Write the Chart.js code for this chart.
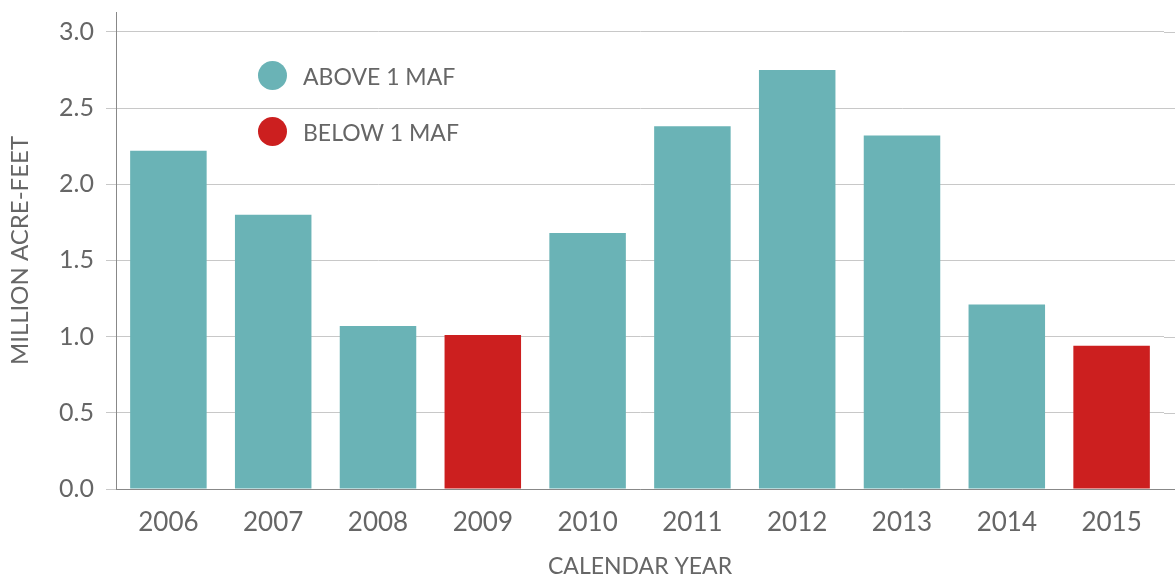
<!DOCTYPE html>
<html>
<head>
<meta charset="utf-8">
<script src="https://cdn.jsdelivr.net/npm/chart.js@4/dist/chart.umd.min.js"></script>
<style>
  html, body { margin: 0; padding: 0; background: #fff; }
  #wrap { position: relative; width: 1175px; height: 580px; }
  .legend { position: absolute; left: 258px; font-family: Lato, sans-serif; font-size: 23px; color: #666; display: flex; align-items: center; }
  .legend span.dot { display: inline-block; width: 29px; height: 29px; border-radius: 50%; margin-right: 16px; }
</style>
</head>
<body>
<div id="wrap">
  <canvas id="chart" width="1175" height="580"></canvas>
  <div class="legend" style="top: 61px;"><span class="dot" style="background:#6ab3b6"></span>ABOVE 1 MAF</div>
  <div class="legend" style="top: 117px;"><span class="dot" style="background:#cc1f1f"></span>BELOW 1 MAF</div>
</div>
<script>
const years = ['2006', '2007', '2008', '2009', '2010', '2011', '2012', '2013', '2014', '2015'];
const flows = [2.22, 1.80, 1.07, 1.01, 1.68, 2.38, 2.75, 2.32, 1.21, 0.94];
// which bars fall under the 1 MAF mark
const belowOne = [false, false, false, true, false, false, false, false, false, true];

const teal = '#6ab3b6';
const red = '#cc1f1f';
const textGrey = '#666';

// carry the horizontal gridlines on to the right edge of the canvas
const gridToEdge = {
  id: 'gridToEdge',
  beforeDatasetsDraw(chart) {
    const ctx = chart.ctx;
    const y = chart.scales.y;
    const right = chart.chartArea.right;
    ctx.save();
    ctx.lineWidth = 1;
    y.ticks.forEach(t => {
      const py = Math.round(y.getPixelForValue(t.value)) + 0.5;
      ctx.strokeStyle = t.value === 0 ? '#888' : '#c8c8c8';
      ctx.beginPath();
      ctx.moveTo(right, py);
      ctx.lineTo(chart.width, py);
      ctx.stroke();
    });
    ctx.restore();
  }
};

new Chart(document.getElementById('chart'), {
  type: 'bar',
  data: {
    labels: years,
    datasets: [{
      data: flows,
      backgroundColor: belowOne.map(b => b ? red : teal),
      categoryPercentage: 1,
      barPercentage: 0.73
    }]
  },
  options: {
    responsive: false,
    animation: false,
    layout: { padding: { top: 12, right: 11, left: 0, bottom: 0 } },
    plugins: {
      legend: { display: false },
      tooltip: { enabled: false }
    },
    scales: {
      x: {
        grid: { display: false },
        border: { color: '#888', width: 1 },
        ticks: { color: textGrey, font: { family: 'Lato', size: 26 }, padding: 10 },
        title: { display: true, text: 'CALENDAR YEAR', color: textGrey, font: { family: 'Lato', size: 23 }, padding: { top: 10, bottom: 0 } },
        afterFit(scale) { scale.height = 91; }
      },
      y: {
        min: 0,
        max: 3.13,
        grid: { color: '#c8c8c8', tickLength: 10, tickColor: '#c8c8c8' },
        border: { color: '#888', width: 1 },
        ticks: {
          stepSize: 0.5,
          includeBounds: false,
          color: textGrey,
          font: { family: 'Lato', size: 25 },
          padding: 12,
          callback: v => v.toFixed(1)
        },
        title: { display: true, text: 'MILLION ACRE-FEET', color: textGrey, font: { family: 'Lato', size: 24 }, padding: { top: 6, bottom: 0 } },
        afterFit(scale) {
          scale.width = 116;
          scale.paddingTop = 0;
          scale.paddingBottom = 0;
        }
      }
    }
  },
  plugins: [gridToEdge]
});
</script>
</body>
</html>
